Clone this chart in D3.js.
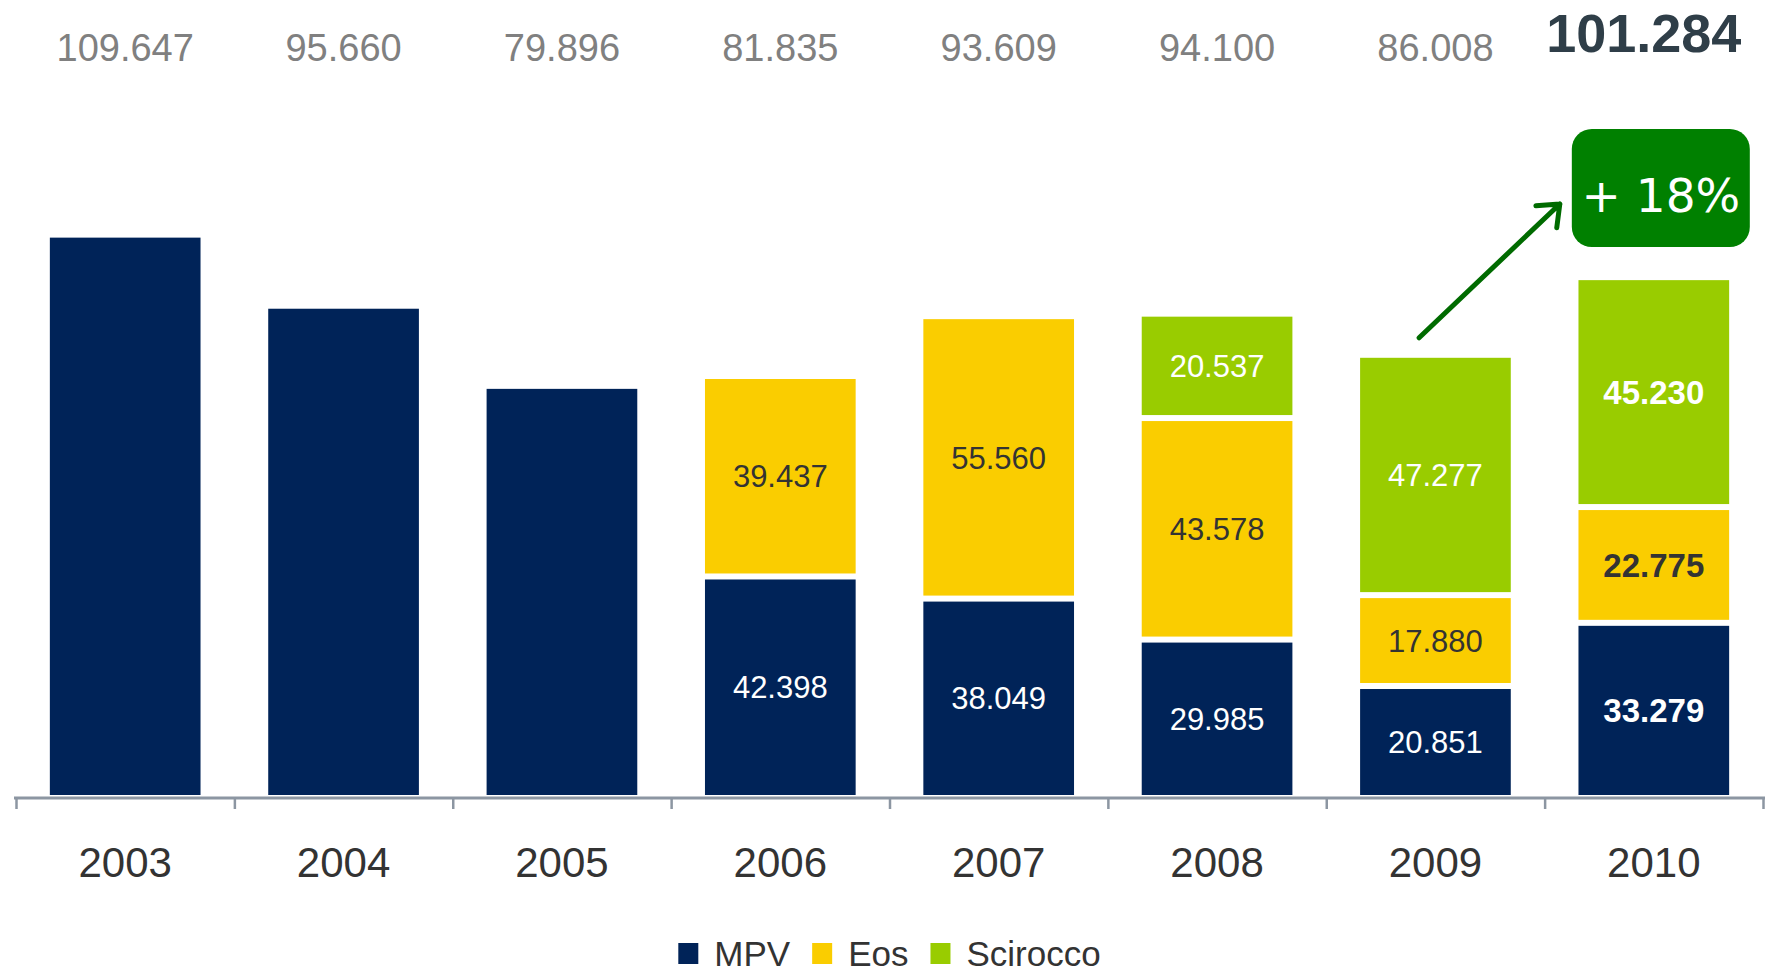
<!DOCTYPE html>
<html>
<head>
<meta charset="utf-8">
<script src="https://cdn.jsdelivr.net/npm/d3@7"></script>
<style>
  html, body { margin: 0; padding: 0; background: #fff; }
  svg { display: block; font-family: "Liberation Sans", Arial, sans-serif; }
</style>
</head>
<body>
<svg id="chart" width="1765" height="976"></svg>
<script>
// volumes per year (units)
const years = ['2003', '2004', '2005', '2006', '2007', '2008', '2009', '2010'];
const mpv = [109647, 95660, 79896, 42398, 38049, 29985, 20851, 33279];
const eos = [0, 0, 0, 39437, 55560, 43578, 17880, 22775];
const scirocco = [0, 0, 0, 0, 0, 20537, 47277, 45230];
const totals = [109647, 95660, 79896, 81835, 93609, 94100, 86008, 101284];
const seriesNames = ['MPV', 'Eos', 'Scirocco'];
const seriesColors = ['#002358', '#facd00', '#99cc00'];
const growthLabel = '+ 18%';

const itFormat = d3.formatLocale({decimal: ',', thousands: '.', grouping: [3], currency: ['€', '']}).format(',');

const svg = d3.select('#chart');
const width = 1765;

let rows = years.map((y, i) => ({year: y, MPV: mpv[i], Eos: eos[i], Scirocco: scirocco[i], total: totals[i]}));
let stacked = d3.stack().keys(seriesNames)(rows);

//scales
let x = d3.scaleBand()
    .domain(years)
    .range([16, 1763])
    .paddingInner(0.31)
    .paddingOuter(0.155);

let y = d3.scaleLinear()
    .domain([0, 120000])
    .range([795, 185]);

let color = d3.scaleOrdinal().domain(seriesNames).range(seriesColors);

//bars
const gap = 6;
let layers = svg.append('g').selectAll('g.layer')
    .data(stacked)
    .enter().append('g')
    .attr('class', 'layer')
    .attr('fill', d => color(d.key));

layers.selectAll('rect')
    .data(d => d.filter(s => s[1] > s[0]))
    .enter().append('rect')
    .attr('x', d => x(d.data.year))
    .attr('width', x.bandwidth())
    .attr('y', d => y(d[1]))
    .attr('height', d => y(d[0]) - y(d[1]) - (d[0] > 0 ? gap : 0));

//segment labels (only years with more than one model)
stacked.forEach(layer => {
    let key = layer.key;
    svg.append('g').selectAll('text')
        .data(layer.filter(s => s[1] > s[0] && s.data.MPV !== s.data.total))
        .enter().append('text')
        .attr('x', d => x(d.data.year) + x.bandwidth() / 2)
        .attr('y', d => (y(d[1]) + y(d[0]) - (d[0] > 0 ? gap : 0)) / 2)
        .attr('dy', '0.36em')
        .attr('text-anchor', 'middle')
        .attr('font-size', d => d.data.year === '2010' ? 33 : 31)
        .attr('font-weight', d => d.data.year === '2010' ? 'bold' : 'normal')
        .attr('fill', key === 'Eos' ? '#333333' : '#ffffff')
        .text(d => itFormat(d[1] - d[0]));
});

//totals on top
svg.append('g').selectAll('text')
    .data(rows)
    .enter().append('text')
    .attr('x', d => x(d.year) + x.bandwidth() / 2 + (d.year === '2010' ? -10 : 0))
    .attr('y', d => d.year === '2010' ? 52 : 61)
    .attr('text-anchor', 'middle')
    .attr('font-size', d => d.year === '2010' ? 54 : 38)
    .attr('font-weight', d => d.year === '2010' ? 'bold' : 'normal')
    .attr('fill', d => d.year === '2010' ? '#2f3e48' : '#808080')
    .text(d => itFormat(d.total));

//x axis: baseline + boundary ticks
let tickScale = d3.scaleLinear().domain([0, years.length]).range([16, 1763]);
let tickAxis = svg.append('g')
    .attr('transform', 'translate(0,798)')
    .call(d3.axisBottom(tickScale).ticks(years.length).tickSize(11).tickFormat('').tickSizeOuter(0));
tickAxis.select('.domain').remove();
tickAxis.selectAll('line').attr('stroke', '#8c96a2').attr('stroke-width', 2.5);
svg.append('line')
    .attr('x1', 14).attr('x2', width)
    .attr('y1', 798).attr('y2', 798)
    .attr('stroke', '#8c96a2').attr('stroke-width', 3);

let yearAxis = svg.append('g')
    .attr('transform', 'translate(0,798)')
    .call(d3.axisBottom(x).tickSize(0).tickPadding(0));
yearAxis.select('.domain').remove();
yearAxis.selectAll('text')
    .attr('y', 79)
    .attr('dy', 0)
    .attr('font-size', 42)
    .attr('font-family', '"Liberation Sans", Arial, sans-serif')
    .attr('fill', '#333333');

//growth badge + arrow
let cx2010 = x('2010') + x.bandwidth() / 2;
let badge = svg.append('g');
badge.append('rect')
    .attr('x', cx2010 - 82).attr('y', 129)
    .attr('width', 178).attr('height', 118)
    .attr('rx', 20).attr('ry', 20)
    .attr('fill', '#008000');
badge.append('text')
    .attr('x', cx2010 + 7).attr('y', 212)
    .attr('text-anchor', 'middle')
    .attr('font-family', '"DejaVu Sans", sans-serif')
    .attr('font-size', 47)
    .attr('fill', '#ffffff')
    .text(growthLabel);

let ax0 = x('2009') + 59, ay0 = y(totals[6]) - 20;
let ax1 = cx2010 - 94, ay1 = 204;
let ang = Math.atan2(ay1 - ay0, ax1 - ax0);
let head = 24, spread = Math.PI / 4.6;
svg.append('path')
    .attr('d', `M${ax0},${ay0}L${ax1},${ay1}` +
        `M${ax1 - head * Math.cos(ang - spread)},${ay1 - head * Math.sin(ang - spread)}L${ax1},${ay1}` +
        `L${ax1 - head * Math.cos(ang + spread)},${ay1 - head * Math.sin(ang + spread)}`)
    .attr('fill', 'none')
    .attr('stroke', '#006b00')
    .attr('stroke-width', 5)
    .attr('stroke-linecap', 'round')
    .attr('stroke-linejoin', 'round');

//legend
let legend = svg.append('g');
let lx = 0;
seriesNames.forEach((name, i) => {
    let item = legend.append('g').attr('transform', `translate(${lx},0)`);
    item.append('rect')
        .attr('x', 0).attr('y', 943)
        .attr('width', 20).attr('height', 21)
        .attr('fill', seriesColors[i]);
    let t = item.append('text')
        .attr('x', 36).attr('y', 966)
        .attr('font-size', 35)
        .attr('fill', '#333333')
        .text(name);
    lx += 36 + t.node().getComputedTextLength() + 22;
});
let lw = lx - 22;
legend.attr('transform', `translate(${(16 + 1763) / 2 - lw / 2},0)`);
</script>
</body>
</html>
